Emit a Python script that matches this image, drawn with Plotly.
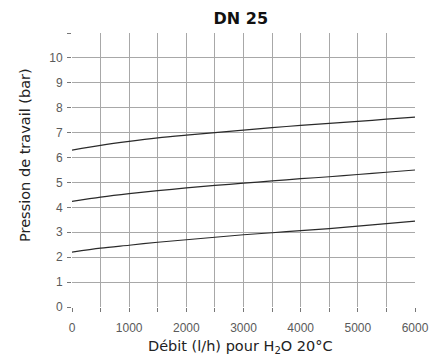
import plotly.graph_objects as go

# Flow rate (l/h) and working pressure (bar) for three regulator settings
debit = [0, 500, 1000, 1500, 2000, 2500, 3000, 3500, 4000, 4500, 5000, 5500, 6000]
pression_haute = [6.3, 6.49, 6.65, 6.79, 6.9, 7.0, 7.1, 7.2, 7.29, 7.37, 7.45, 7.54, 7.62]
pression_moyenne = [4.24, 4.41, 4.55, 4.67, 4.78, 4.88, 4.97, 5.06, 5.15, 5.23, 5.32, 5.41, 5.5]
pression_basse = [2.2, 2.36, 2.48, 2.6, 2.7, 2.8, 2.9, 2.98, 3.07, 3.15, 3.25, 3.35, 3.45]

x_labels = list(range(0, 6001, 1000))
y_labels = list(range(0, 11))

fig = go.Figure()
for serie in (pression_haute, pression_moyenne, pression_basse):
    fig.add_trace(go.Scatter(
        x=debit, y=serie, mode="lines",
        line=dict(color="#2a2a2a", width=1.2, shape="spline", smoothing=0.8),
        showlegend=False, hoverinfo="skip",
    ))

grid = "#a8a8a8"
tick_font = dict(family="Liberation Sans", size=12, color="#5a5a5a")
title_font = dict(family="DejaVu Sans", size=14.5, color="#222222")

fig.update_layout(
    width=446, height=358,
    margin=dict(l=72, r=31, t=33, b=51),
    paper_bgcolor="white", plot_bgcolor="white",
    title=dict(text="<b>DN 25</b>", x=0.54, xanchor="center", y=0.95, yanchor="middle",
               font=dict(family="DejaVu Sans", size=16, color="#111111")),
    xaxis=dict(
        range=[0, 6000], tickvals=x_labels, automargin=False,
        showgrid=True, gridcolor=grid, gridwidth=1,
        ticks="outside", ticklen=4, tickcolor="#777777",
        minor=dict(dtick=500, tick0=0, showgrid=True, gridcolor=grid, gridwidth=1,
                   ticks="outside", ticklen=4, tickcolor="#777777"),
        showline=False, zeroline=False,
        tickfont=tick_font, ticklabelstandoff=6,
    ),
    yaxis=dict(
        range=[0, 11], tickvals=y_labels, automargin=False,
        showgrid=True, gridcolor=grid, gridwidth=1,
        ticks="outside", ticklen=4, tickcolor="#777777",
        minor=dict(dtick=1, tick0=0, showgrid=True, gridcolor=grid, gridwidth=1,
                   ticks="outside", ticklen=4, tickcolor="#777777"),
        showline=False, zeroline=False,
        tickfont=tick_font, ticklabelstandoff=2,
    ),
    annotations=[
        dict(text="Débit (l/h) pour H<sub>2</sub>O 20°C", xref="paper", yref="paper",
             x=0.49, y=-0.146, xanchor="center", yanchor="middle",
             showarrow=False, font=title_font),
        dict(text="Pression de travail (bar)", xref="paper", yref="paper",
             x=-0.137, y=0.555, xanchor="center", yanchor="middle", textangle=-90,
             showarrow=False, font=title_font),
    ],
)

fig.write_html("out.html")
